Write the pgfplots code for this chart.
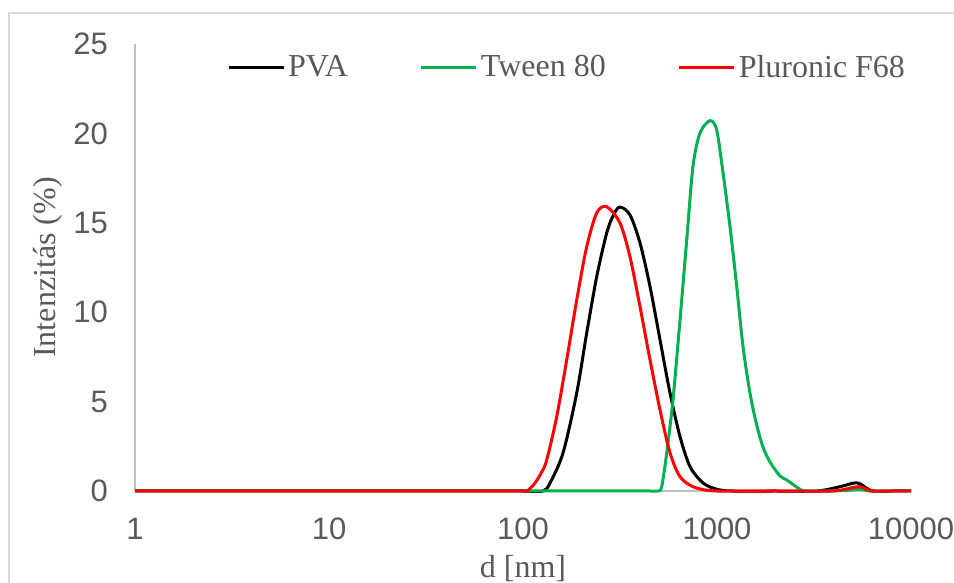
\documentclass[border=0pt]{standalone}
\usepackage{pgfplots}
\pgfplotsset{compat=1.18}
\usepackage{fontspec}
\setmainfont{Liberation Serif}
\newfontfamily\arial{Liberation Sans}

\definecolor{tickgray}{HTML}{595959}
\definecolor{axisgray}{HTML}{BFBFBF}
\definecolor{framegray}{HTML}{D9D9D9}
\definecolor{tweengreen}{HTML}{00B050}
\definecolor{plured}{HTML}{FF0000}

% Intensity distributions, d [nm] vs intensity [%]
\pgfplotstableread{
d      I
1      0
10     0
90     0
100    0
126.8  0
137.8  0.45
160.8  2.13
189.2  5.48
213    8.84
239.9  11.99
270    14.43
293    15.45
316    15.88
356    15.44
401    13.87
451.6  11.43
508.5  8.45
572.6  5.48
644.7  3.04
726    1.36
847    0.45
996    0.1
1200   0
2000   0
3266   0
4305   0.24
5250   0.46
5914   0.15
6393   0
8000   0
10000  0
}\pva

\pgfplotstableread{
d      I
1      0
10     0
100    0
300    0
450    0
496    0
518.8  0.24
550.5  2.13
593    5.09
644.7  9.56
698    14.04
751.7  18.14
817    20.02
920    20.71
996    20.19
1074   17.79
1167   14.78
1264   11.43
1362   8.07
1479   5.48
1602   3.69
1726   2.46
1876   1.62
2113   0.84
2287   0.62
2617   0.17
2843   0
3800   0
4850   0.05
5460   0.1
6150   0
8000   0
10000  0
}\tween

\pgfplotstableread{
d      I
1      0
10     0
90     0
100    0
106    0.03
115.3  0.45
124    1.0
132.5  1.73
149.2  4.16
168    7.33
189.2  10.68
213    13.66
239.9  15.55
270    15.9
316    14.99
356    13.1
401    10.31
451.6  7.33
508.5  4.53
572.6  2.13
644.7  0.80
751.7  0.24
920    0.02
1200   0
2000   0
3963   0
5350   0.24
6270   0
8000   0
10000  0
}\pluronic

\begin{document}
\begin{tikzpicture}[x=1bp,y=1bp]
\useasboundingbox (0,0) rectangle (954,583);
\draw[framegray, line width=1.5bp] (9,-10) -- (9,570) -- (970,570);
\begin{axis}[
  at={(135bp,92bp)}, anchor=south west,
  scale only axis, width=776bp, height=447bp,
  xmode=log, xmin=1, xmax=10000, ymin=0, ymax=25,
  axis lines*=left,
  axis line style={axisgray, line width=1.3bp},
  major tick length=0pt, minor tick length=0pt,
  xtick={1,10,100,1000,10000},
  xticklabels={1,10,100,1000,10000},
  ytick={0,5,10,15,20,25},
  yticklabels={0,5,10,15,20,25},
  /pgf/number format/assume math mode=true,
  tick label style={font=\arial\fontsize{31bp}{36bp}\selectfont, text=tickgray, inner sep=0pt},
  xticklabel style={anchor=center, yshift=-38bp},
  yticklabel style={anchor=east, xshift=-27bp},
  xlabel={d [nm]},
  ylabel={Intenzitás (\%)},
  label style={font=\fontsize{32bp}{38bp}\selectfont, text=tickgray},
  xlabel style={at={(axis description cs:0.5,-0.1745)}, anchor=center},
  ylabel style={at={(axis description cs:-0.1121,0.5)}, anchor=center},
  clip=false,
  legend columns=3,
  legend style={at={(axis description cs:0.1186,0.9485)}, anchor=west,
    draw=none, fill=none, inner sep=0pt, outer sep=0pt,
    font=\fontsize{32bp}{38bp}\selectfont, text=tickgray,
    nodes={inner sep=0pt},
    /tikz/every odd column/.append style={column sep=3bp},
    /tikz/every even column/.append style={column sep=72bp}},
  legend image code/.code={\draw[#1, line width=3bp] (0bp,0bp) -- (55bp,0bp);},
  every axis plot/.append style={line width=3bp, smooth, tension=0.5, no markers},
]
\addplot[black] table[x=d, y=I] {\pva};
\addlegendentry{PVA}
\addplot[tweengreen] table[x=d, y=I] {\tween};
\addlegendentry{Tween 80}
\addplot[plured] table[x=d, y=I] {\pluronic};
\addlegendentry{Pluronic F68}
\end{axis}
\end{tikzpicture}
\end{document}
